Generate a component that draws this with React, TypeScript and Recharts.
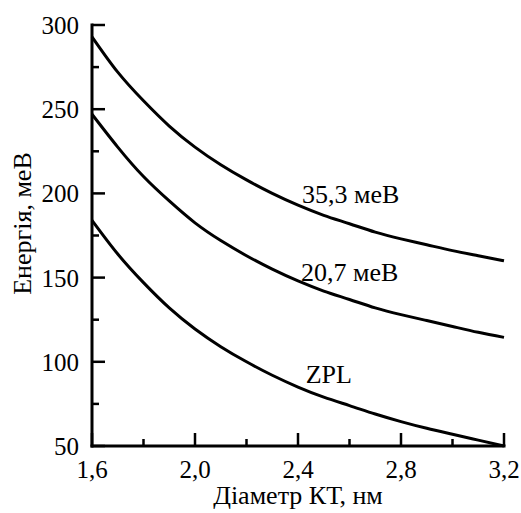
import React from "react";
import { LineChart, Line, XAxis, YAxis, ReferenceDot } from "recharts";

// quantum dot diameter, nm
const diam = [1.6, 1.7, 1.8, 1.9, 2.0, 2.1, 2.2, 2.3, 2.4, 2.5, 2.6, 2.7, 2.8, 2.9, 3.0, 3.1, 3.2];
// energies, meV
const zpl = [184, 164, 147, 132, 119.5, 109, 100, 92, 85, 79, 74, 69, 64.5, 60.5, 57, 53.5, 50];
const rep207 = [247, 227.5, 210, 195.5, 182.5, 172, 163, 155, 148, 142, 137, 132, 128, 124.5, 121, 117.5, 114.5];
const rep353 = [293, 272, 255, 240, 227.5, 217, 208, 200, 193, 187, 182, 177, 173, 169.5, 166, 163, 160];

const xTicks = [1.6, 1.8, 2.0, 2.2, 2.4, 2.6, 2.8, 3.0, 3.2];
const yTicks = [50, 75, 100, 125, 150, 175, 200, 225, 250, 275, 300];

const curveLabels = [
    { text: "35,3 меВ", d: 2.416, e: 194.3 },
    { text: "20,7 меВ", d: 2.412, e: 148 },
    { text: "ZPL", d: 2.43, e: 87.4 },
];

const data = diam.map((d, i) => ({ d, zpl: zpl[i], r207: rep207[i], r353: rep353[i] }));

const tickTxt = { fontFamily: "Liberation Serif", fontSize: 25, fill: "#000" };
const txt = { fontFamily: "Liberation Serif", fontSize: 26, fill: "#000" };

function LeftTick(props: any) {
    const { x, y, payload } = props;
    const major = payload.value % 50 === 0;
    return (
        <g>
            <line x1={x} x2={x + (major ? 13 : 7)} y1={y} y2={y} stroke="#000" strokeWidth={2.5} />
            {major && (
                <text x={x - 13} y={y} dy="0.36em" textAnchor="end" style={tickTxt}>
                    {payload.value}
                </text>
            )}
        </g>
    );
}

function RightTick(props: any) {
    const { x, y } = props;
    return <line x1={x} x2={x + 3} y1={y} y2={y} stroke="#000" strokeWidth={2} />;
}

function BottomTick(props: any) {
    const { x, y, payload } = props;
    const major = Math.round(payload.value * 10) % 4 === 0;
    return (
        <g>
            <line x1={x} x2={x} y1={y} y2={y - (major ? 13 : 7)} stroke="#000" strokeWidth={2.5} />
            {major && (
                <text x={x} y={y + 32} textAnchor="middle" style={tickTxt}>
                    {payload.value.toFixed(1).replace(".", ",")}
                </text>
            )}
        </g>
    );
}

const axisLine = { stroke: "#000", strokeWidth: 3, strokeLinecap: "square" as const };

export default function App() {
    return (
        <div style={{ position: "absolute", left: 0, top: 0, width: 521, height: 513, background: "#fff", fontFamily: "Liberation Serif" }}>
            <LineChart width={521} height={513} data={data} margin={{ top: 25, right: 17, left: 0, bottom: 0 }}>
                <XAxis
                    dataKey="d"
                    type="number"
                    domain={[1.6, 3.2]}
                    ticks={xTicks}
                    height={67}
                    axisLine={axisLine}
                    tickLine={false}
                    tickSize={0}
                    tickMargin={0}
                    tick={<BottomTick />}
                    interval={0}
                    label={{
                        content: (p: any) => (
                            <text x={p.viewBox.x + p.viewBox.width / 2} y={p.viewBox.y + 58} textAnchor="middle" style={txt}>
                                Діаметр КТ, нм
                            </text>
                        ),
                    }}
                />
                <XAxis xAxisId="top" orientation="top" type="number" dataKey="d" domain={[1.6, 3.2]} height={0} axisLine={axisLine} tick={false} tickLine={false} />
                <YAxis
                    type="number"
                    domain={[50, 300]}
                    ticks={yTicks}
                    width={92}
                    axisLine={axisLine}
                    tickLine={false}
                    tickSize={0}
                    tickMargin={0}
                    tick={<LeftTick />}
                    interval={0}
                    label={{
                        content: (p: any) => {
                            const cx = p.viewBox.x + 22;
                            const cy = p.viewBox.y + p.viewBox.height / 2 - 12;
                            return (
                                <text x={cx} y={cy} dy="0.36em" textAnchor="middle" transform={`rotate(-90 ${cx} ${cy})`} style={txt}>
                                    Енергія, меВ
                                </text>
                            );
                        },
                    }}
                />
                <YAxis
                    yAxisId="r"
                    orientation="right"
                    type="number"
                    domain={[50, 300]}
                    ticks={yTicks}
                    width={0}
                    axisLine={axisLine}
                    tickLine={false}
                    tickSize={0}
                    tickMargin={0}
                    tick={<RightTick />}
                    interval={0}
                />
                <Line type="natural" dataKey="r353" stroke="#000" strokeWidth={3} dot={false} isAnimationActive={false} />
                <Line type="natural" dataKey="r207" stroke="#000" strokeWidth={3} dot={false} isAnimationActive={false} />
                <Line type="natural" dataKey="zpl" stroke="#000" strokeWidth={3} dot={false} isAnimationActive={false} />
                {curveLabels.map((c) => (
                    <ReferenceDot
                        key={c.text}
                        x={c.d}
                        y={c.e}
                        r={0}
                        fill="none"
                        stroke="none"
                        label={{
                            content: (p: any) => (
                                <text x={p.viewBox.x} y={p.viewBox.y} style={txt}>
                                    {c.text}
                                </text>
                            ),
                        }}
                    />
                ))}
            </LineChart>
        </div>
    );
}
